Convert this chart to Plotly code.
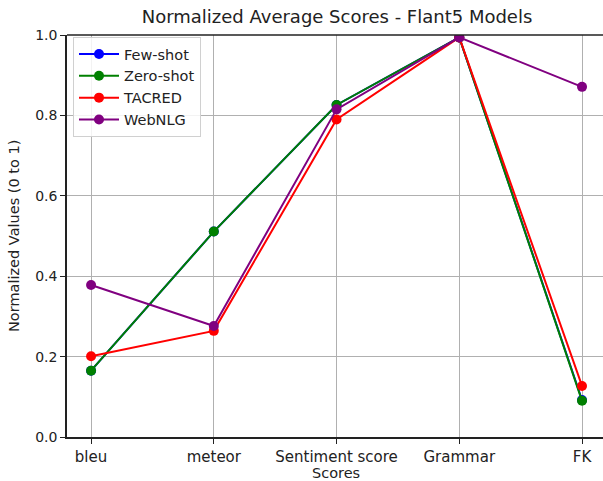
import plotly.graph_objects as go

categories = ["bleu", "meteor", "Sentiment score", "Grammar", "FK"]
few_shot = [0.165, 0.511, 0.826, 0.994, 0.092]
zero_shot = [0.165, 0.511, 0.826, 0.994, 0.090]
tacred = [0.201, 0.264, 0.790, 0.994, 0.127]
webnlg = [0.378, 0.276, 0.815, 0.994, 0.871]
y_ticks = [0.0, 0.2, 0.4, 0.6, 0.8, 1.0]

series = [
    ("Few-shot", few_shot, "blue"),
    ("Zero-shot", zero_shot, "green"),
    ("TACRED", tacred, "red"),
    ("WebNLG", webnlg, "purple"),
]

fig = go.Figure()
xs = list(range(len(categories)))
for name, vals, color in series:
    fig.add_trace(go.Scatter(
        x=xs, y=vals, name=name, mode="lines+markers",
        line=dict(color=color, width=2),
        marker=dict(color=color, size=10),
    ))

W, H = 610, 481
L, T, B = 67, 35, 44
font = "DejaVu Sans, sans-serif"
fig.update_layout(
    width=W, height=H,
    margin=dict(l=L, r=0, t=T, b=B, autoexpand=False),
    paper_bgcolor="white", plot_bgcolor="white",
    font=dict(family=font, size=14, color="#222"),
    title=dict(text="Normalized Average Scores - Flant5 Models",
               x=337 / W, xanchor="center", y=1 - 17 / H, yanchor="middle",
               font=dict(size=18, color="#222")),
    showlegend=True,
    legend=dict(x=6 / (W - L), y=0.995, xanchor="left", yanchor="top",
                bgcolor="rgba(255,255,255,0.85)", bordercolor="#d0d0d0", borderwidth=1,
                font=dict(size=14.5), tracegroupgap=4, itemwidth=40),
    shapes=[
        dict(type="line", xref="paper", yref="paper", x0=0, x1=1, y0=1, y1=1,
             line=dict(color="#222", width=1.5), layer="above"),
    ],
    annotations=[
        dict(text="Scores", xref="paper", yref="paper",
             x=(336 - L) / (W - L), y=-(473 - (H - B)) / (H - T - B),
             xanchor="center", yanchor="middle", showarrow=False,
             font=dict(size=14.5, color="#222")),
        dict(text="Normalized Values (0 to 1)", xref="paper", yref="paper",
             x=-(L - 14) / (W - L), y=0.5, textangle=-90,
             xanchor="center", yanchor="middle", showarrow=False,
             font=dict(size=14.5, color="#222")),
    ],
)
fig.update_xaxes(
    tickmode="array", tickvals=xs, ticktext=categories,
    range=[-0.196, 4.228], automargin=False,
    showgrid=True, gridcolor="#b0b0b0", gridwidth=1,
    showline=True, linecolor="#222", linewidth=1.5, mirror=False,
    ticks="outside", ticklen=5, tickcolor="#222",
    tickfont=dict(size=15),
    zeroline=False,
)
fig.update_yaxes(
    range=[0, 1], tickvals=y_ticks, tickformat=".1f", automargin=False,
    showgrid=True, gridcolor="#b0b0b0", gridwidth=1,
    showline=True, linecolor="#222", linewidth=1.5, mirror=False,
    ticks="outside", ticklen=5, tickcolor="#222",
    tickfont=dict(size=14),
    zeroline=False,
)
fig.write_html("out.html", config={"displayModeBar": False},
               post_script="document.body.style.margin='0';document.body.style.overflow='hidden';")
